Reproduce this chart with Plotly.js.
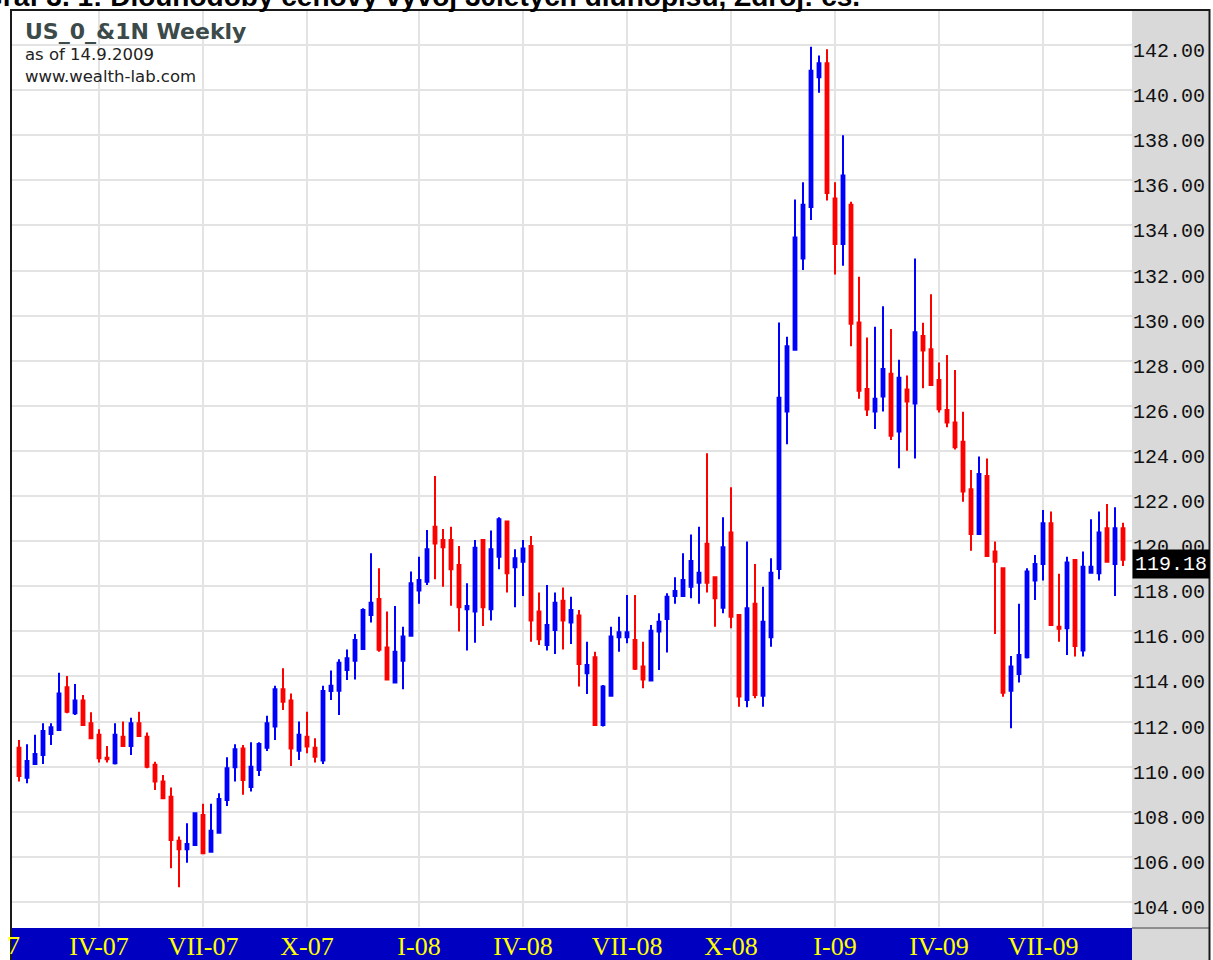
<!DOCTYPE html>
<html><head><meta charset="utf-8">
<script src="https://cdn.plot.ly/plotly-3.0.1.min.js"></script>
<style>html,body{margin:0;padding:0;background:#fff}#chart{width:1213px;height:960px}</style>
</head><body><div id="chart"></div>
<script>
// Weekly OHLC, US_0_&1N (30Y T-Bond), ~Jan 2007 .. 14.9.2009
const openP = [110.84,109.51,110.12,110.52,111.45,111.63,113.52,112.37,112.93,111.92,
111.41,110.40,110.15,111.33,110.92,111.92,111.33,110.08,109.34,108.67,
106.72,106.34,106.53,107.86,106.23,107.07,108.52,109.97,110.81,109.10,
109.85,110.84,111.78,113.43,112.93,110.71,111.33,110.84,110.27,113.36,
113.37,114.29,114.70,115.22,116.73,117.44,115.28,113.73,114.70,115.80,
117.81,118.20,120.64,120.05,120.05,118.94,116.98,116.88,120.05,116.98,
119.31,120.87,118.84,119.09,119.79,116.88,115.40,116.06,117.36,116.39,
116.70,114.14,114.85,111.85,113.14,115.74,115.74,115.62,114.44,113.82,
115.99,116.55,117.57,117.57,117.98,118.16,119.88,118.40,117.05,120.38,
116.73,112.96,117.22,113.14,115.74,118.76,125.75,128.49,132.54,134.82,
140.57,141.19,135.20,133.18,134.92,129.70,126.75,125.75,126.42,127.42,
124.86,126.73,126.11,129.10,128.51,127.15,125.82,125.26,124.41,122.30,
120.32,122.89,119.54,118.80,113.37,114.11,114.85,118.25,118.99,120.79,
116.21,116.14,119.17,115.15,118.60,118.58,120.57,118.99,120.57];
const highP = [111.18,110.99,111.41,111.92,111.92,114.17,114.02,113.67,113.18,112.41,
111.66,110.92,111.92,112.00,112.17,112.44,111.51,110.22,109.63,109.08,
106.90,107.49,107.98,108.35,108.35,108.82,110.42,110.99,110.96,111.08,
111.08,112.26,113.59,114.36,113.25,112.00,112.44,111.26,113.59,114.26,
114.76,115.20,115.88,117.02,119.46,118.80,116.88,117.13,116.21,118.65,
119.31,120.50,122.89,120.54,120.64,119.79,118.13,120.05,120.07,120.47,
121.06,120.90,119.64,120.05,120.23,117.72,118.06,117.72,117.95,117.54,
116.95,115.54,115.10,113.62,116.21,116.65,117.61,117.61,115.54,116.28,
116.80,117.69,118.40,119.46,120.30,120.64,123.90,118.43,121.06,122.39,
116.75,119.98,118.99,117.98,119.24,129.70,129.07,135.15,135.92,141.92,
141.54,141.81,135.92,138.00,135.05,131.73,129.03,129.51,130.42,129.41,
128.05,127.35,132.54,129.69,130.95,127.92,128.26,127.59,125.74,123.16,
123.75,123.67,119.98,118.84,114.91,117.22,118.80,119.39,121.38,121.31,
118.55,119.31,119.20,119.54,120.97,121.31,121.65,121.50,120.82];
const lowP = [109.34,109.26,110.10,110.12,110.96,111.60,112.37,112.29,111.83,111.24,
110.18,110.18,110.10,110.90,110.52,111.34,109.93,108.97,108.58,105.49,
104.65,105.74,106.50,106.14,106.19,107.05,108.26,109.34,108.75,108.90,
109.59,110.70,111.18,112.51,110.03,110.30,110.59,110.18,110.12,112.96,
112.29,113.84,113.87,115.20,116.39,115.10,113.85,113.70,113.43,115.78,
117.22,118.06,118.31,117.98,117.14,115.99,115.15,115.50,116.24,116.48,
118.75,117.72,117.07,117.57,115.54,115.40,115.15,115.00,115.20,115.44,
113.55,113.22,111.83,111.78,113.12,115.10,115.47,114.29,113.48,113.80,
114.29,115.06,117.22,117.55,117.47,117.22,117.72,116.21,116.80,116.14,
112.66,112.63,113.03,112.66,115.32,118.31,124.30,128.45,132.02,134.24,
139.88,135.11,131.83,132.21,128.64,126.32,125.55,124.97,125.75,124.49,
123.23,124.01,123.67,126.78,126.88,125.70,125.05,124.07,121.75,119.58,
120.30,119.32,115.88,113.10,111.70,113.73,114.80,117.39,118.25,116.24,
115.54,114.95,114.88,114.88,118.57,118.25,119.07,117.57,118.90];
const closeP = [109.59,110.25,110.56,111.58,111.75,113.25,112.44,112.93,111.85,111.26,
110.37,110.33,111.41,110.92,111.92,111.36,110.00,109.34,108.60,106.75,
106.34,106.57,107.93,106.16,107.16,108.57,109.93,110.77,109.41,110.00,
111.01,111.92,113.43,112.88,110.81,111.41,110.89,110.44,113.36,113.59,
114.61,114.81,115.62,116.95,117.27,115.18,113.87,115.10,115.77,118.13,
118.28,119.64,119.90,119.73,118.75,117.07,117.13,119.71,117.07,119.64,
120.97,118.58,119.24,119.68,116.48,115.65,116.28,117.27,116.48,116.95,
114.55,114.51,111.85,113.55,115.77,115.96,115.96,114.34,113.87,116.03,
116.43,117.54,117.79,118.28,119.12,118.60,118.16,117.47,119.73,116.65,
113.11,117.02,113.18,116.43,118.60,126.36,128.64,133.47,134.92,140.86,
141.19,135.44,133.18,136.21,129.64,126.67,125.84,126.32,127.64,124.68,
127.25,126.19,129.26,128.45,126.93,125.85,125.26,124.16,122.20,120.32,
122.98,119.34,119.09,113.28,114.44,114.95,118.65,118.99,120.79,116.28,
116.12,119.05,115.35,118.87,118.87,120.38,119.09,120.57,119.18];

// quarter-start bars and their labels
const quarterTickIdx = [10,23,36,50,63,76,89,102,115,128];
const quarterLabels = ['IV-07','VII-07','X-07','I-08','IV-08','VII-08','X-08','I-09','IV-09','VII-09'];
const lastPriceLabel = '119.18';

const barIdx = openP.map((_, i) => i);

// pixel helpers (plot area 12..1132 x 11..927)
const L = 12, R = 1132, T = 11, B = 927, W = 1213, H = 960;
const px = x => (x - L) / (R - L);
const py = y => (B - y) / (B - T);

const trace = {
  type: 'candlestick',
  x: barIdx, open: openP, high: highP, low: lowP, close: closeP,
  increasing: {line: {color: '#0000ff', width: 2}, fillcolor: '#0000ff'},
  decreasing: {line: {color: '#ff0000', width: 2}, fillcolor: '#ff0000'},
  whiskerwidth: 0,
  hoverinfo: 'skip',
  showlegend: false
};

const layout = {
  width: W, height: H,
  margin: {l: L, r: W - R, t: T, b: H - B, pad: 0},
  paper_bgcolor: '#ffffff',
  plot_bgcolor: '#ffffff',
  boxgap: 0.5,
  showlegend: false,
  xaxis: {
    type: 'linear',
    range: [-0.875, 139.125],
    rangeslider: {visible: false},
    tickmode: 'array', tickvals: quarterTickIdx, ticktext: quarterLabels,
    showgrid: true, gridcolor: '#e3e3e3', gridwidth: 2,
    zeroline: false, showline: false, ticks: '',
    ticklabelstandoff: 1,
    tickfont: {family: 'Liberation Serif, serif', size: 26, color: '#ffff00'},
    fixedrange: true
  },
  yaxis: {
    side: 'right',
    range: [102.89, 143.51],
    tickmode: 'linear', tick0: 104, dtick: 2, tickformat: '.2f',
    showgrid: true, gridcolor: '#e3e3e3', gridwidth: 2,
    zeroline: false, showline: false, ticks: '',
    ticklabelshift: 5,
    tickfont: {family: 'Liberation Mono, monospace', size: 20, color: '#111111'},
    fixedrange: true
  },
  shapes: [
    // grey price-axis panel
    {type: 'rect', xref: 'paper', yref: 'paper', x0: 1, x1: px(1210), y0: py(961), y1: py(10),
     fillcolor: '#d9d9d9', line: {width: 0}, layer: 'below'},
    // blue date band
    {type: 'rect', xref: 'paper', yref: 'paper', x0: 0, x1: 1, y0: py(961), y1: py(928),
     fillcolor: '#0000c0', line: {width: 0}, layer: 'below'},
    // separator under price panel
    {type: 'line', xref: 'paper', yref: 'paper', x0: 1, x1: px(1210), y0: py(928), y1: py(928),
     line: {color: '#444444', width: 1}, layer: 'below'},
    // outer frame
    {type: 'rect', xref: 'paper', yref: 'paper', x0: px(11), x1: px(1209.5), y0: py(962), y1: py(10),
     fillcolor: 'rgba(0,0,0,0)', line: {color: '#1a1a1a', width: 2}, layer: 'above'}
  ],
  annotations: [
    {xref: 'paper', yref: 'paper', x: px(-20), y: py(13), xanchor: 'left', yanchor: 'bottom',
     text: '<b>Graf 3. 1: Dlouhodobý cenový vývoj 30letých dluhopisů, Zdroj: cs.</b>', showarrow: false,
     font: {family: 'Liberation Sans, Arial, sans-serif', size: 28, color: '#000000'}, borderpad: 0},
    {xref: 'paper', yref: 'paper', x: px(24), y: py(31), xanchor: 'left', yanchor: 'middle',
     text: '<b>US_0_&amp;1N Weekly</b>', showarrow: false,
     font: {family: 'DejaVu Sans, Verdana, sans-serif', size: 22, color: '#3c4a4a'}, borderpad: 0},
    {xref: 'paper', yref: 'paper', x: px(24), y: py(54), xanchor: 'left', yanchor: 'middle',
     text: 'as of 14.9.2009', showarrow: false,
     font: {family: 'DejaVu Sans, Verdana, sans-serif', size: 16.5, color: '#222222'}, borderpad: 0},
    {xref: 'paper', yref: 'paper', x: px(24), y: py(76), xanchor: 'left', yanchor: 'middle',
     text: 'www.wealth-lab.com', showarrow: false,
     font: {family: 'DejaVu Sans, Verdana, sans-serif', size: 16.5, color: '#222222'}, borderpad: 0},
    // last price marker
    {xref: 'paper', yref: 'y', x: px(1171), y: closeP[closeP.length - 1], xanchor: 'center', yanchor: 'middle',
     yshift: -4, text: lastPriceLabel, showarrow: false, bgcolor: '#000000', width: 76, height: 28,
     font: {family: 'Liberation Mono, monospace', size: 20, color: '#ffffff'}, borderpad: 0},
    // clipped first quarter label fragment
    {xref: 'paper', yref: 'paper', x: px(21), y: py(945), xanchor: 'right', yanchor: 'middle',
     text: '7', showarrow: false,
     font: {family: 'Liberation Serif, serif', size: 26, color: '#ffff00'}, borderpad: 0}
  ]
};

Plotly.newPlot('chart', [trace], layout, {staticPlot: true, displayModeBar: false});
</script>
</body></html>
